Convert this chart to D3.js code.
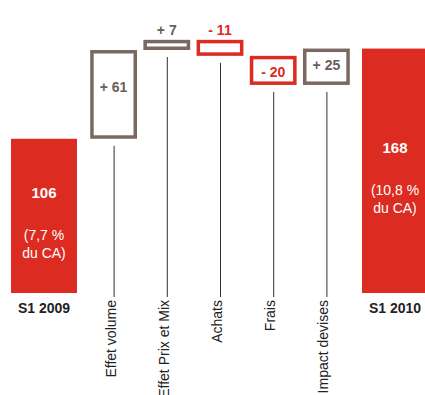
<!DOCTYPE html>
<html>
<head>
<meta charset="utf-8">
<script src="https://cdn.jsdelivr.net/npm/d3@7"></script>
<style>
  html, body { margin: 0; padding: 0; background: #fff; }
  svg { display: block; }
  text { font-family: "Liberation Sans", Arial, Helvetica, sans-serif; }
</style>
</head>
<body>
<svg id="chart" width="425" height="395"></svg>
<script>
// ---- data ----
const totalCategories = ["S1 2009", "S1 2010"];
const totalValues = [106, 168];
const totalPctLines = [["(7,7 %", "du CA)"], ["(10,8 %", "du CA)"]];

const stepCategories = ["Effet volume", "Effet Prix et Mix", "Achats", "Frais", "Impact devises"];
const stepValues = [61, 7, -11, -20, 25];
const stepLabels = ["+ 61", "+ 7", "- 11", "- 20", "+ 25"];

// ---- styles ----
const RED = "#dc2b20";
const GREY = "#7a6861";
const GREY_TEXT = "#6b5d57";

const svg = d3.select("#chart");
const W = 425, H = 395;

// scales
const y = d3.scaleLinear().domain([0, 200]).range([293, 2]);

const xStep = d3.scaleBand()
  .domain(stepCategories)
  .range([87, 353])
  .paddingInner(0.12)
  .paddingOuter(0.06);

const xTotal = d3.scaleOrdinal().domain(totalCategories).range([11, 362]);
const totalWidth = 66;

// compute waterfall
let running = totalValues[0];
const steps = stepValues.map((v, i) => {
  const start = running;
  const end = running + v;
  running = end;
  return { cat: stepCategories[i], value: v, label: stepLabels[i], start, end,
           lo: Math.min(start, end), hi: Math.max(start, end) };
});

// totals
const totals = totalCategories.map((c, i) => ({ cat: c, value: totalValues[i], lines: totalPctLines[i] }));

const tg = svg.append("g");
tg.selectAll("rect").data(totals).join("rect")
  .attr("x", d => xTotal(d.cat))
  .attr("y", d => y(d.value))
  .attr("width", totalWidth)
  .attr("height", d => y(0) - y(d.value))
  .attr("fill", RED);

totals.forEach(d => {
  const cx = xTotal(d.cat) + totalWidth / 2;
  const mid = (y(d.value) + y(0)) / 2;
  const nb = mid - 18;
  tg.append("text").attr("x", cx).attr("y", nb)
    .attr("text-anchor", "middle").attr("fill", "#fff")
    .attr("font-size", 15).attr("font-weight", "bold").text(d.value);
  d.lines.forEach((l, j) => {
    tg.append("text").attr("x", cx).attr("y", nb + 42 + j * 18)
      .attr("text-anchor", "middle").attr("fill", "#fff")
      .attr("font-size", 14).text(l);
  });
  tg.append("text").attr("x", cx).attr("y", 313)
    .attr("text-anchor", "middle").attr("fill", "#222")
    .attr("font-size", 14).attr("font-weight", "bold").text(d.cat);
});

// steps
const sw = 3.5;
const sg = svg.append("g");
steps.forEach(d => {
  const x0 = xStep(d.cat);
  const bw = xStep.bandwidth();
  const cx = x0 + bw / 2;
  const top = y(d.hi), bot = y(d.lo);
  const col = d.value < 0 ? RED : GREY;
  const tcol = d.value < 0 ? RED : GREY_TEXT;
  sg.append("rect")
    .attr("x", x0 + sw / 2).attr("y", top + sw / 2)
    .attr("width", bw - sw).attr("height", Math.max(bot - top - sw, 1))
    .attr("fill", "#fff").attr("stroke", col).attr("stroke-width", sw);

  // label
  const h = bot - top;
  let ty;
  if (h > 50) ty = top + 42;
  else if (h > 25) ty = top + 21;
  else ty = top - 5;
  sg.append("text").attr("x", cx).attr("y", ty)
    .attr("text-anchor", "middle").attr("fill", tcol)
    .attr("font-size", 14).attr("font-weight", "bold").text(d.label);

  // leader line
  sg.append("line")
    .attr("x1", cx + 0.5).attr("x2", cx + 0.5)
    .attr("y1", bot + 7).attr("y2", 297)
    .attr("stroke", "#333").attr("stroke-width", 1);

  // category label (rotated)
  sg.append("text")
    .attr("transform", `translate(${cx + 2},300) rotate(-90)`)
    .attr("text-anchor", "end").attr("fill", "#222")
    .attr("font-size", 14).text(d.cat);
});
</script>
</body>
</html>
